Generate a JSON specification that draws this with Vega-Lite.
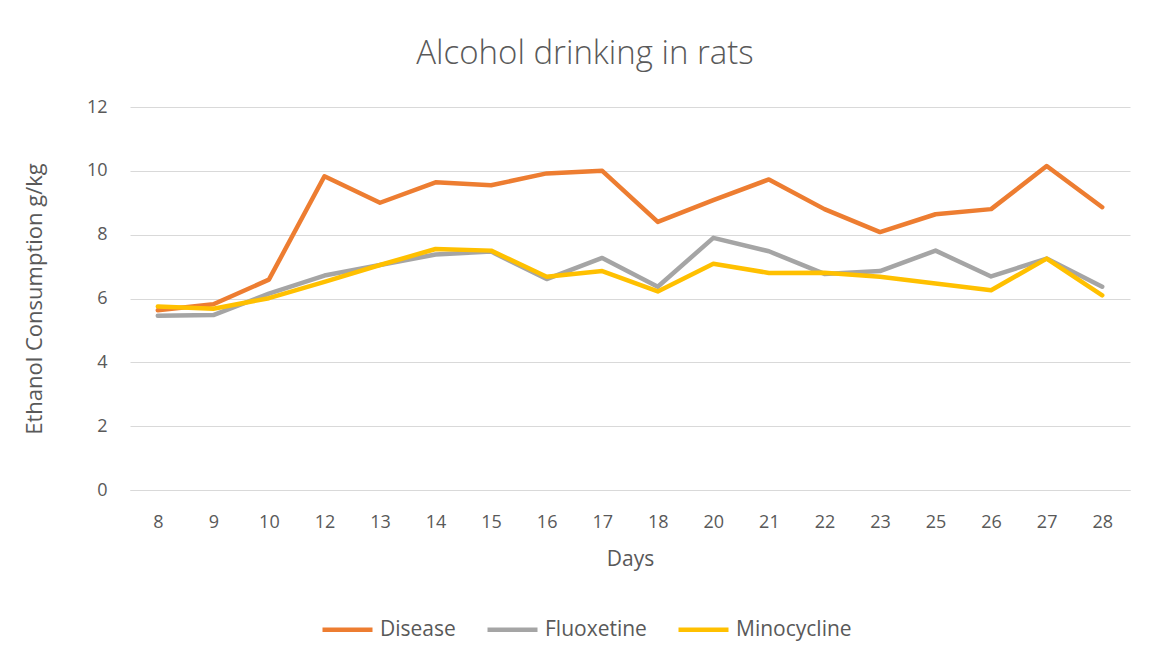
{
  "$schema": "https://vega.github.io/schema/vega-lite/v6.json",
  "autosize": "none",
  "width": 1000,
  "height": 383,
  "padding": {"left": 130, "top": 107, "right": 19, "bottom": 174},
  "background": "white",
  "title": {
    "text": "Alcohol drinking in rats",
    "font": "Open Sans",
    "fontSize": 33,
    "fontWeight": 300,
    "color": "#595959",
    "anchor": "middle",
    "dx": -45,
    "offset": 27
  },
  "data": {
    "values": [
      {"day": "8", "series": "Disease", "value": 5.63},
      {"day": "9", "series": "Disease", "value": 5.82},
      {"day": "10", "series": "Disease", "value": 6.59},
      {"day": "12", "series": "Disease", "value": 9.83},
      {"day": "13", "series": "Disease", "value": 9.0},
      {"day": "14", "series": "Disease", "value": 9.64},
      {"day": "15", "series": "Disease", "value": 9.55},
      {"day": "16", "series": "Disease", "value": 9.92},
      {"day": "17", "series": "Disease", "value": 10.0},
      {"day": "18", "series": "Disease", "value": 8.4},
      {"day": "20", "series": "Disease", "value": 9.08},
      {"day": "21", "series": "Disease", "value": 9.73},
      {"day": "22", "series": "Disease", "value": 8.8},
      {"day": "23", "series": "Disease", "value": 8.08},
      {"day": "25", "series": "Disease", "value": 8.64},
      {"day": "26", "series": "Disease", "value": 8.8},
      {"day": "27", "series": "Disease", "value": 10.15},
      {"day": "28", "series": "Disease", "value": 8.86},
      {"day": "8", "series": "Fluoxetine", "value": 5.46},
      {"day": "9", "series": "Fluoxetine", "value": 5.48},
      {"day": "10", "series": "Fluoxetine", "value": 6.15},
      {"day": "12", "series": "Fluoxetine", "value": 6.72},
      {"day": "13", "series": "Fluoxetine", "value": 7.05},
      {"day": "14", "series": "Fluoxetine", "value": 7.38},
      {"day": "15", "series": "Fluoxetine", "value": 7.47},
      {"day": "16", "series": "Fluoxetine", "value": 6.61},
      {"day": "17", "series": "Fluoxetine", "value": 7.27},
      {"day": "18", "series": "Fluoxetine", "value": 6.37},
      {"day": "20", "series": "Fluoxetine", "value": 7.9},
      {"day": "21", "series": "Fluoxetine", "value": 7.48},
      {"day": "22", "series": "Fluoxetine", "value": 6.77},
      {"day": "23", "series": "Fluoxetine", "value": 6.86},
      {"day": "25", "series": "Fluoxetine", "value": 7.5},
      {"day": "26", "series": "Fluoxetine", "value": 6.69},
      {"day": "27", "series": "Fluoxetine", "value": 7.25},
      {"day": "28", "series": "Fluoxetine", "value": 6.37},
      {"day": "8", "series": "Minocycline", "value": 5.75},
      {"day": "9", "series": "Minocycline", "value": 5.68},
      {"day": "10", "series": "Minocycline", "value": 6.01},
      {"day": "12", "series": "Minocycline", "value": 6.52},
      {"day": "13", "series": "Minocycline", "value": 7.05},
      {"day": "14", "series": "Minocycline", "value": 7.55},
      {"day": "15", "series": "Minocycline", "value": 7.5},
      {"day": "16", "series": "Minocycline", "value": 6.68},
      {"day": "17", "series": "Minocycline", "value": 6.86},
      {"day": "18", "series": "Minocycline", "value": 6.22},
      {"day": "20", "series": "Minocycline", "value": 7.09},
      {"day": "21", "series": "Minocycline", "value": 6.8},
      {"day": "22", "series": "Minocycline", "value": 6.81},
      {"day": "23", "series": "Minocycline", "value": 6.68},
      {"day": "25", "series": "Minocycline", "value": 6.47},
      {"day": "26", "series": "Minocycline", "value": 6.26},
      {"day": "27", "series": "Minocycline", "value": 7.25},
      {"day": "28", "series": "Minocycline", "value": 6.1}
    ]
  },
  "mark": {"type": "line", "strokeWidth": 4.5, "strokeCap": "round", "strokeJoin": "round"},
  "encoding": {
    "x": {
      "field": "day",
      "type": "ordinal",
      "sort": null,
      "scale": {"type": "point", "padding": 0.5},
      "axis": {
        "title": "Days",
        "labelAngle": 0,
        "ticks": false,
        "grid": false,
        "domainColor": "#D9D9D9",
        "domainWidth": 1,
        "labelPadding": 23,
        "titlePadding": 17,
        "titleFontSize": 21
      }
    },
    "y": {
      "field": "value",
      "type": "quantitative",
      "scale": {"domain": [0, 12], "nice": false},
      "axis": {
        "title": "Ethanol Consumption g/kg",
        "values": [0, 2, 4, 6, 8, 10, 12],
        "ticks": false,
        "domain": false,
        "gridColor": "#D9D9D9",
        "gridWidth": 1,
        "labelPadding": 23,
        "titlePadding": 40,
        "titleFontSize": 22
      }
    },
    "color": {
      "field": "series",
      "type": "nominal",
      "scale": {"domain": ["Disease", "Fluoxetine", "Minocycline"], "range": ["#ED7D31", "#A5A5A5", "#FFC000"]},
      "legend": {
        "title": null,
        "orient": "none",
        "direction": "horizontal",
        "legendX": 190,
        "legendY": 495,
        "symbolType": "stroke",
        "symbolSize": 2500,
        "symbolStrokeWidth": 4.5,
        "labelOffset": 5,
        "columnPadding": 22
      }
    }
  },
  "config": {
    "font": "Open Sans",
    "view": {"stroke": null},
    "axis": {
      "labelFont": "Open Sans",
      "labelFontSize": 18,
      "labelColor": "#595959",
      "titleFont": "Open Sans",
      "titleFontSize": 20,
      "titleFontWeight": "normal",
      "titleColor": "#595959"
    },
    "legend": {
      "labelFont": "Open Sans",
      "labelFontSize": 21,
      "labelColor": "#595959"
    }
  }
}
